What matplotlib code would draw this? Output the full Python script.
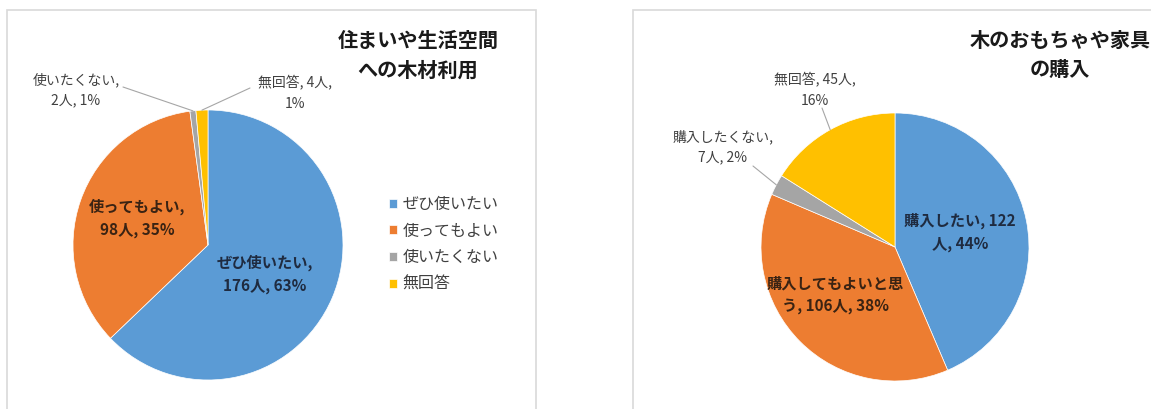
import numpy as np
import matplotlib
matplotlib.use("Agg")
import matplotlib.pyplot as plt
from matplotlib.patches import Rectangle

plt.rcParams['font.family'] = ['Noto Sans CJK JP', 'DejaVu Sans']

W, H = 1151, 409

# 左: 住まいや生活空間への木材利用
left_title = "住まいや生活空間\nへの木材利用"
left_cats = ["ぜひ使いたい", "使ってもよい", "使いたくない", "無回答"]
left_counts = [176, 98, 2, 4]
left_pcts = [63, 35, 1, 1]

# 右: 木のおもちゃや家具の購入
right_title = "木のおもちゃや家具\nの購入"
right_cats = ["購入したい", "購入してもよいと思う", "購入したくない", "無回答"]
right_counts = [122, 106, 7, 45]
right_pcts = [44, 38, 2, 16]

colors = ['#5B9BD5', '#ED7D31', '#A5A5A5', '#FFC000']
txt_gray = '#404040'


def px(x, y):
    # 画像のピクセル座標 -> figure 座標
    return (x / W, 1 - y / H)


def pie_axes(fig, cx, cy, r):
    ax = fig.add_axes([(cx - r) / W, (H - cy - r) / H, 2 * r / W, 2 * r / H])
    return ax


def mid_point(values, i):
    # Excel と同じく12時から時計回り
    tot = sum(values)
    start = sum(values[:i]) / tot * 360
    mid = start + values[i] / tot * 360 / 2
    t = np.deg2rad(mid)
    return (np.sin(t), np.cos(t))


fig = plt.figure(figsize=(W / 100, H / 100), dpi=100)

# パネル枠
fig.patches.append(Rectangle(px(7, 430), 529 / W, 420 / H, transform=fig.transFigure,
                             fill=False, edgecolor='#d9d9d9', lw=1.2))
fig.patches.append(Rectangle(px(633, 430), 560 / W, 420 / H, transform=fig.transFigure,
                             fill=False, edgecolor='#d9d9d9', lw=1.2))

# ---- 左のグラフ ----
ax1 = pie_axes(fig, 208, 245, 135)
wedges1, _ = ax1.pie(left_counts, colors=colors, startangle=90, counterclock=False,
                     radius=1, wedgeprops=dict(edgecolor='white', linewidth=0.5))
ax1.set_xlim(-1, 1)
ax1.set_ylim(-1, 1)
ax1.axis('off')

fig.text(*px(418, 55), left_title, ha='center', va='center', fontsize=14.5,
         fontweight='bold', color='#1a1a1a', linespacing=1.5)

lab = [f"{c},\n{n}人, {p}%" for c, n, p in zip(left_cats, left_counts, left_pcts)]
fig.text(*px(265, 274), lab[0], ha='center', va='center', fontsize=11,
         fontweight='bold', color='#1f2b40', linespacing=1.5)
fig.text(*px(137, 218), lab[1], ha='center', va='center', fontsize=11,
         fontweight='bold', color='#3a2313', linespacing=1.5)
fig.text(*px(76, 90), lab[2], ha='center', va='center', fontsize=10,
         color=txt_gray, linespacing=1.55)
fig.text(*px(295, 93), f"{left_cats[3]}, {left_counts[3]}人,\n{left_pcts[3]}%",
         ha='center', va='center', fontsize=10, color=txt_gray, linespacing=1.55)

for i, (tx, ty) in [(2, (123, 87)), (3, (250, 88))]:
    ax1.annotate('', xy=mid_point(left_counts, i), xycoords='data',
                 xytext=(tx, H - ty), textcoords='figure pixels',
                 arrowprops=dict(arrowstyle='-', color='#a6a6a6', lw=0.8,
                                 shrinkA=0, shrinkB=0))

fig.legend(wedges1, left_cats, loc='upper left', bbox_to_anchor=px(389, 196),
           frameon=False, fontsize=11.5, handlelength=0.5, handleheight=0.5,
           handletextpad=0.35, labelspacing=0.6, labelcolor=txt_gray,
           borderaxespad=0, borderpad=0)

# ---- 右のグラフ ----
ax2 = pie_axes(fig, 895, 247, 134)
wedges2, _ = ax2.pie(right_counts, colors=colors, startangle=90, counterclock=False,
                     radius=1, wedgeprops=dict(edgecolor='white', linewidth=0.5))
ax2.set_xlim(-1, 1)
ax2.set_ylim(-1, 1)
ax2.axis('off')

fig.text(*px(1060, 55), right_title, ha='center', va='center', fontsize=14.5,
         fontweight='bold', color='#1a1a1a', linespacing=1.5)

fig.text(*px(960, 232), f"{right_cats[0]}, {right_counts[0]}\n人, {right_pcts[0]}%",
         ha='center', va='center', fontsize=11, fontweight='bold',
         color='#1f2b40', linespacing=1.5)
fig.text(*px(835, 295), f"購入してもよいと思\nう, {right_counts[1]}人, {right_pcts[1]}%",
         ha='center', va='center', fontsize=11, fontweight='bold',
         color='#3a2313', linespacing=1.5)
fig.text(*px(723, 147), f"{right_cats[2]},\n{right_counts[2]}人, {right_pcts[2]}%",
         ha='center', va='center', fontsize=10, color=txt_gray, linespacing=1.55)
fig.text(*px(815, 90), f"{right_cats[3]}, {right_counts[3]}人,\n{right_pcts[3]}%",
         ha='center', va='center', fontsize=10, color=txt_gray, linespacing=1.55)

for i, (tx, ty) in [(2, (753, 166)), (3, (822, 108))]:
    ax2.annotate('', xy=mid_point(right_counts, i), xycoords='data',
                 xytext=(tx, H - ty), textcoords='figure pixels',
                 arrowprops=dict(arrowstyle='-', color='#a6a6a6', lw=0.8,
                                 shrinkA=0, shrinkB=0))

fig.savefig("out.png", dpi=100)
